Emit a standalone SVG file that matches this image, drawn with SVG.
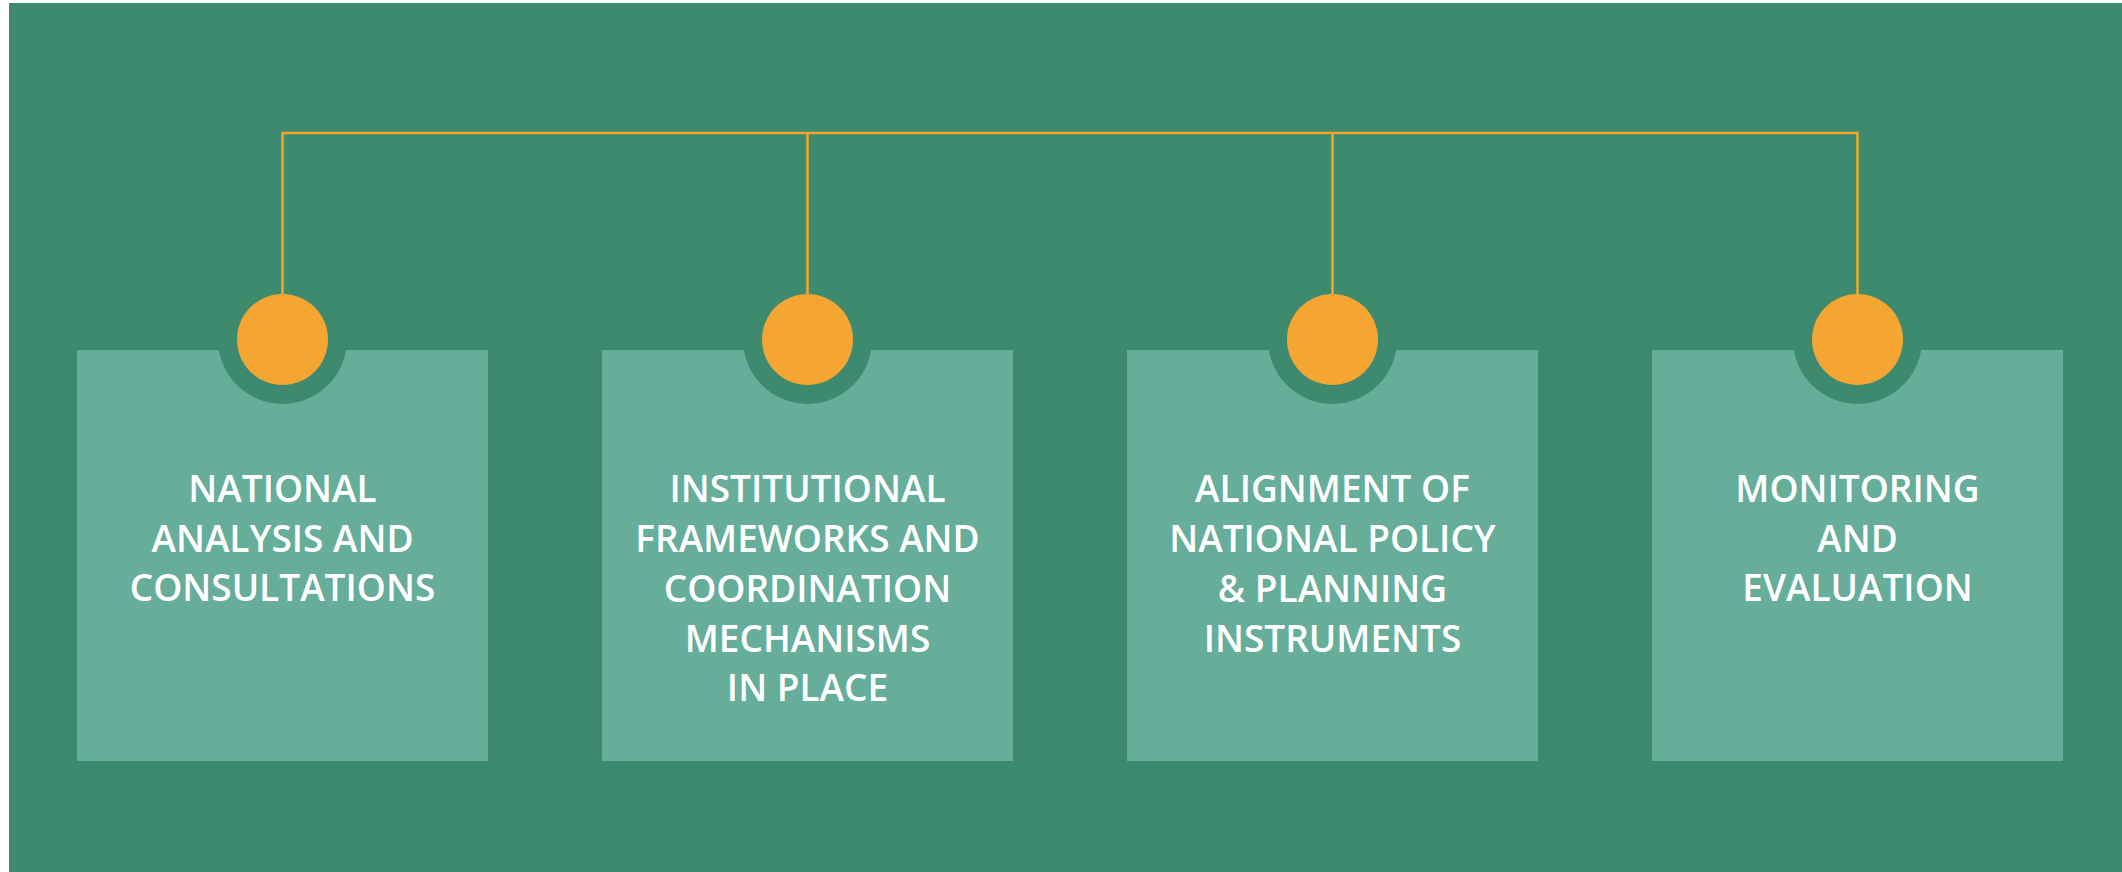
<svg xmlns="http://www.w3.org/2000/svg" width="2122" height="872" viewBox="0 0 2122 872">
<style>
.box{fill:#66AE9A}
.ring{fill:#3D8A6F}
.dot{fill:#F5A632}
.lbl{font-family:"Open Sans","Liberation Sans",sans-serif;font-size:37px;font-weight:600;fill:#FFFFFF;text-anchor:middle}
.con{fill:none;stroke:#F2A62A;stroke-width:2.5}
</style>
<rect x="0" y="0" width="2122" height="872" fill="#FFFFFF"/>
<rect x="9" y="3" width="2113" height="869" fill="#3D8A6F"/>
<g id="node1">
<rect class="box" x="77" y="350" width="411" height="411"/>
<circle class="ring" cx="282.5" cy="339.5" r="64.5"/>
<circle class="dot" cx="282.5" cy="339.5" r="45.5"/>
<text class="lbl" x="282.5" y="502">NATIONAL</text>
<text class="lbl" x="282.5" y="552">ANALYSIS AND</text>
<text class="lbl" x="282.5" y="601">CONSULTATIONS</text>
</g>
<g id="node2">
<rect class="box" x="602" y="350" width="411" height="411"/>
<circle class="ring" cx="807.5" cy="339.5" r="64.5"/>
<circle class="dot" cx="807.5" cy="339.5" r="45.5"/>
<text class="lbl" x="807.5" y="502">INSTITUTIONAL</text>
<text class="lbl" x="807.5" y="552">FRAMEWORKS AND</text>
<text class="lbl" x="807.5" y="602">COORDINATION</text>
<text class="lbl" x="807.5" y="652">MECHANISMS</text>
<text class="lbl" x="807.5" y="701">IN PLACE</text>
</g>
<g id="node3">
<rect class="box" x="1127" y="350" width="411" height="411"/>
<circle class="ring" cx="1332.5" cy="339.5" r="64.5"/>
<circle class="dot" cx="1332.5" cy="339.5" r="45.5"/>
<text class="lbl" x="1332.5" y="502">ALIGNMENT OF</text>
<text class="lbl" x="1332.5" y="552">NATIONAL POLICY</text>
<text class="lbl" x="1332.5" y="602">&amp; PLANNING</text>
<text class="lbl" x="1332.5" y="652">INSTRUMENTS</text>
</g>
<g id="node4">
<rect class="box" x="1652" y="350" width="411" height="411"/>
<circle class="ring" cx="1857.5" cy="339.5" r="64.5"/>
<circle class="dot" cx="1857.5" cy="339.5" r="45.5"/>
<text class="lbl" x="1857.5" y="502">MONITORING</text>
<text class="lbl" x="1857.5" y="552">AND</text>
<text class="lbl" x="1857.5" y="601">EVALUATION</text>
</g>
<g id="connectors">
<path class="con" d="M282.5 294 V133 H1857.5 V294 M807.5 133 V294 M1332.5 133 V294"/>
</g>
</svg>
